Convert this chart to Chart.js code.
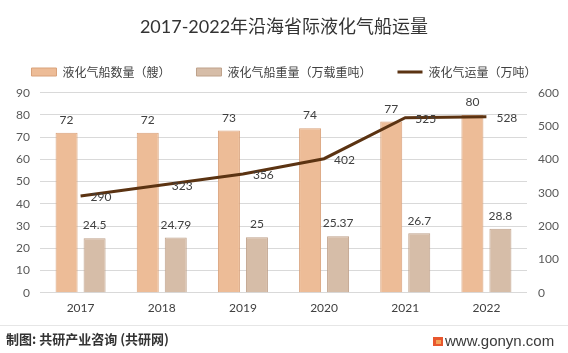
<!DOCTYPE html>
<html><head><meta charset="utf-8">
<script src="https://cdn.jsdelivr.net/npm/chart.js@4/dist/chart.umd.min.js"></script>
<style>html,body{margin:0;padding:0;background:#fff;} canvas{display:block;}</style>
</head><body>
<canvas id="c" width="568" height="353"></canvas>
<script>
// ---- data ----
const titleText = '2017-2022年沿海省际液化气船运量';
const years = ['2017', '2018', '2019', '2020', '2021', '2022'];
const shipCount = [72, 72, 73, 74, 77, 80];
const shipTonnage = [24.5, 24.79, 25, 25.37, 26.7, 28.8];
const gasVolume = [290, 323, 356, 402, 525, 528];
const seriesNames = ['液化气船数量（艘）', '液化气船重量（万载重吨）', '液化气运量（万吨）'];
const leftAxis = { min: 0, max: 90, step: 10 };
const rightAxis = { min: 0, max: 600, step: 100 };
const sourceText = '制图: 共研产业咨询 (共研网)';
const siteText = 'www.gonyn.com';

// ---- styles ----
const NUM_FONT = "Lato, 'Noto Sans CJK SC', sans-serif";
const CJK_FONT = "'Noto Sans CJK SC', sans-serif";
const C_ORANGE = '#EDBC97', C_ORANGE_B = '#D9A27B';
const C_BEIGE = '#D6BDA8', C_BEIGE_B = '#BFA28B';
const C_LINE = '#5B3312';
const TOP_BLOCK = 92.7;   // y of chart area top
const BOTTOM_AXIS_H = 60.3;

const legendFitPatch = {
  id: 'legendFitPatch',
  afterInit(chart) {
    const lg = chart.legend;
    if (lg) {
      const orig = lg.fit.bind(lg);
      lg.fit = function () {
        orig();
        const titleH = chart.titleBlock ? chart.titleBlock.height : 0;
        this.height = TOP_BLOCK - titleH;
      };
    }
  }
};

const valueLabels = {
  id: 'valueLabels',
  afterDatasetsDraw(chart) {
    const ctx = chart.ctx;
    ctx.save();
    ctx.fillStyle = '#404040';
    ctx.font = "12px " + NUM_FONT;
    ctx.textBaseline = 'middle';
    chart.data.datasets.forEach((ds, i) => {
      const meta = chart.getDatasetMeta(i);
      meta.data.forEach((el, j) => {
        const v = ds.data[j];
        if (ds.type === 'line') {
          ctx.textAlign = 'left';
          ctx.fillText(String(v), el.x + 10, el.y + 1);
        } else {
          ctx.textAlign = 'center';
          ctx.fillText(String(v), el.x, el.y - 12.7);
        }
      });
    });
    ctx.restore();
  }
};

const footer = {
  id: 'footer',
  afterDraw(chart) {
    const ctx = chart.ctx;
    ctx.save();
    ctx.strokeStyle = '#E6E6E6';
    ctx.lineWidth = 1;
    ctx.beginPath();
    ctx.moveTo(0, 325.5);
    ctx.lineTo(568, 325.5);
    ctx.stroke();
    ctx.fillStyle = '#333333';
    ctx.font = "bold 13px " + CJK_FONT;
    ctx.textAlign = 'left';
    ctx.textBaseline = 'middle';
    ctx.fillText(sourceText, 6, 339);
    ctx.fillStyle = '#E8572E';
    ctx.fillRect(433, 337, 10, 9);
    ctx.fillStyle = '#F4A35A';
    ctx.fillRect(436, 340, 5, 4);
    ctx.fillStyle = '#3a3a3a';
    ctx.font = "15px 'Liberation Sans', Arial, sans-serif";
    ctx.fillText(siteText, 445, 342);
    ctx.restore();
  }
};

new Chart(document.getElementById('c'), {
  data: {
    labels: years,
    datasets: [
      { type: 'bar', label: seriesNames[0], data: shipCount, yAxisID: 'y',
        backgroundColor: C_ORANGE, borderColor: C_ORANGE_B, borderWidth: 1,
        categoryPercentage: 0.69, barPercentage: 0.786, order: 1 },
      { type: 'bar', label: seriesNames[1], data: shipTonnage, yAxisID: 'y',
        backgroundColor: C_BEIGE, borderColor: C_BEIGE_B, borderWidth: 1,
        categoryPercentage: 0.69, barPercentage: 0.786, order: 1 },
      { type: 'line', label: seriesNames[2], data: gasVolume, yAxisID: 'y1',
        borderColor: C_LINE, backgroundColor: C_LINE, borderWidth: 3,
        pointRadius: 0, tension: 0, order: 0 }
    ]
  },
  options: {
    responsive: false,
    animation: false,
    devicePixelRatio: 1,
    layout: { padding: 0 },
    plugins: {
      title: {
        display: true, text: titleText, color: '#333333',
        font: { family: NUM_FONT, size: 18, weight: 'normal', lineHeight: 1.2 },
        padding: { top: 16, bottom: 2.4 }
      },
      legend: {
        display: true, position: 'top', align: 'center',
        labels: {
          usePointStyle: true, pointStyleWidth: 25, boxHeight: 8, padding: 26,
          color: '#404040', font: { family: CJK_FONT, size: 12 },
          generateLabels(chart) {
            return chart.data.datasets.map((ds, i) => ({
              text: ds.label,
              fillStyle: ds.type === 'line' ? ds.borderColor : ds.backgroundColor,
              strokeStyle: ds.borderColor,
              lineWidth: ds.type === 'line' ? 3 : 1,
              pointStyle: ds.type === 'line' ? 'line' : 'rect',
              fontColor: '#404040',
              datasetIndex: i,
              hidden: false
            }));
          }
        }
      },
      tooltip: { enabled: false }
    },
    scales: {
      x: {
        offset: true,
        grid: { display: false, drawTicks: false },
        border: { display: false },
        ticks: { color: '#404040', font: { family: NUM_FONT, size: 12 }, padding: 8 },
        afterFit(s) { s.height = BOTTOM_AXIS_H; }
      },
      y: {
        position: 'left', min: leftAxis.min, max: leftAxis.max,
        ticks: { stepSize: leftAxis.step, color: '#595959', font: { family: NUM_FONT, size: 12 }, padding: 10 },
        grid: { color: '#D9D9D9', lineWidth: 1, drawTicks: false },
        border: { display: false },
        afterFit(s) { s.width = 40; }
      },
      y1: {
        position: 'right', min: rightAxis.min, max: rightAxis.max,
        ticks: { stepSize: rightAxis.step, color: '#595959', font: { family: NUM_FONT, size: 12 }, padding: 11 },
        grid: { display: false, drawTicks: false },
        border: { display: false },
        afterFit(s) { s.width = 41; }
      }
    }
  },
  plugins: [legendFitPatch, valueLabels, footer]
});
</script>
</body></html>
